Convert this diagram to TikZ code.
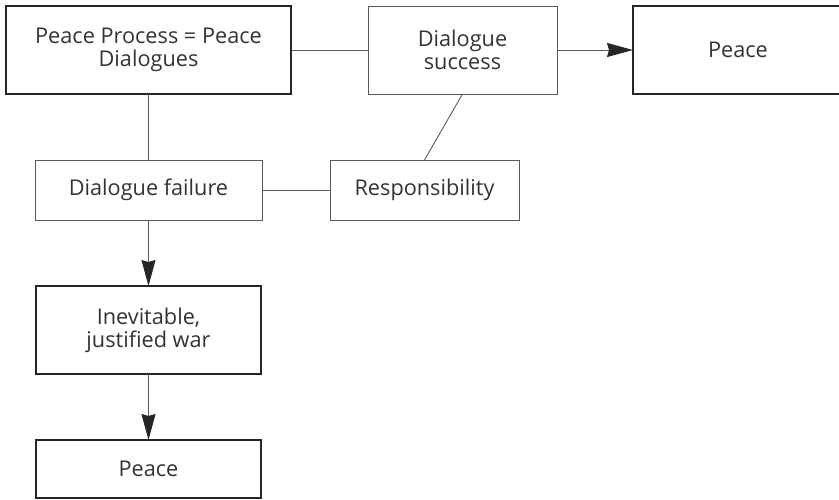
\documentclass[tikz,border=0pt]{standalone}
\usepackage{fontspec}
\setmainfont{Open Sans}
\usetikzlibrary{arrows.meta}
\definecolor{txt}{HTML}{333333}
\definecolor{thinline}{HTML}{5A5A5A}
\definecolor{thickline}{HTML}{262626}
\tikzset{
  box/.style={draw=thinline, line width=0.9pt, rectangle, align=center, text=txt,
    font=\fontsize{21.7}{23}\selectfont, inner sep=0pt, outer sep=0pt},
  thickbox/.style={box, draw=thickline, line width=2.2pt},
  conn/.style={draw=thinline, line width=0.9pt},
  arr/.style={conn, -{Stealth[length=26pt,width=14pt,inset=2pt,fill=thickline,color=thickline]}},
}
\begin{document}
\begin{tikzpicture}[x=1pt,y=-1pt]
\useasboundingbox (0,0) rectangle (839,499);
\clip (0,0) rectangle (839,499);
\node[thickbox, minimum width=285pt, minimum height=88pt] (pp) at (148.5,50) {Peace Process = Peace\\Dialogues};
\node[box, minimum width=189pt, minimum height=88pt] (ds) at (462.5,50) {Dialogue\\success};
\node[thickbox, minimum width=210pt, minimum height=88pt] (pt) at (738,50) {Peace};
\node[box, minimum width=227pt, minimum height=60pt] (df) at (148.5,190) {Dialogue failure};
\node[box, minimum width=189pt, minimum height=60pt] (rs) at (424.5,190) {Responsibility};
\node[thickbox, minimum width=225pt, minimum height=88pt] (iw) at (148.5,330) {Inevitable,\\justified war};
\node[thickbox, minimum width=225pt, minimum height=58pt] (pb) at (148.5,469) {Peace};
\draw[conn] (pp.east) -- (ds.west);
\draw[arr] (ds.east) -- (pt.west);
\draw[conn] (pp.south) -- (df.north);
\draw[conn] (df.east) -- (rs.west);
\draw[conn] (ds.south) -- (rs.north);
\draw[arr] (df.south) -- (iw.north);
\draw[arr] (iw.south) -- (pb.north);
\end{tikzpicture}
\end{document}
